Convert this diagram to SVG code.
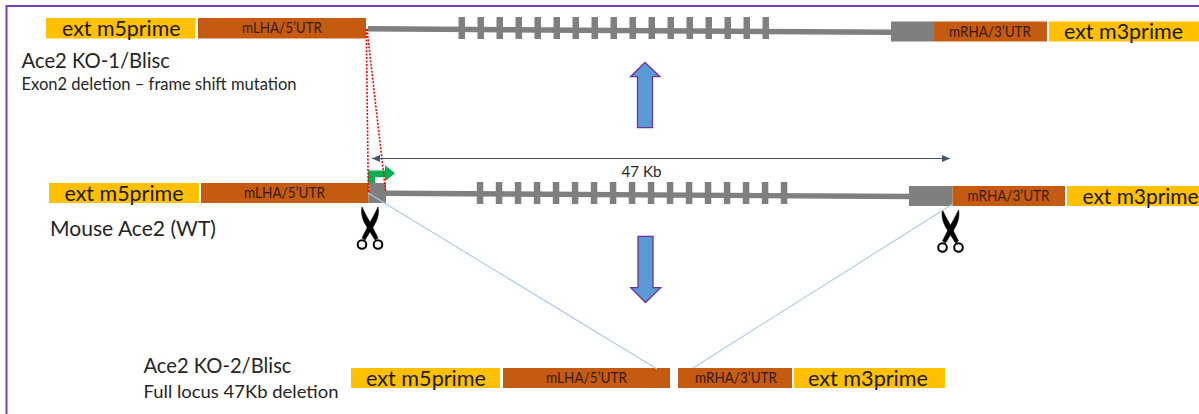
<svg xmlns="http://www.w3.org/2000/svg" width="1199" height="414" viewBox="0 0 1199 414">
<style>
text{font-family:"Lato","Carlito","Liberation Sans",sans-serif;fill:#262626}
.ext{font-size:22px;fill:#1a1a00}
.ha{font-size:14.5px;fill:#3a1a05}
.big{font-size:21px}
.small{font-size:16.5px}
.y{fill:#ffc000}
.b{fill:#c55a11}
.g{fill:#7f7f7f}
.red{fill:none;stroke:#ff0000;stroke-width:1.6;stroke-dasharray:2 1.500}
.blue{fill:none;stroke:#a9cbe8;stroke-width:1.1}
.fat{fill:#5b9bd5;stroke:#7030a0;stroke-width:1.3}
.sc{fill:none;stroke:#000;stroke-width:2}
.bl{fill:#000;stroke:#000;stroke-width:0.6}
</style>
<defs>
<g id="exons" class="g">
<rect x="0" width="6.5" height="22"/><rect x="19" width="6.5" height="22"/><rect x="38" width="6.5" height="22"/><rect x="57" width="6.5" height="22"/><rect x="76" width="6.5" height="22"/><rect x="95" width="6.5" height="22"/><rect x="114" width="6.5" height="22"/><rect x="133" width="6.5" height="22"/><rect x="152" width="6.5" height="22"/><rect x="171" width="6.5" height="22"/><rect x="190" width="6.5" height="22"/><rect x="209" width="6.5" height="22"/><rect x="228" width="6.5" height="22"/><rect x="247" width="6.5" height="22"/><rect x="266" width="6.5" height="22"/><rect x="285" width="6.5" height="22"/><rect x="304" width="6.5" height="22"/>
</g>
<g id="scissors">
<path class="bl" d="M-8 0C-9.500 7 -7 14 -3 20L5 33L8 31L2 19C-1 13 -5 7 -8 0Z"/>
<path class="bl" d="M8 0C9.500 7 7 14 3 20L-5 33L-8 31L-2 19C1 13 5 7 8 0Z"/>
<circle class="sc" cx="-8" cy="37.500" r="4.300"/>
<circle class="sc" cx="8" cy="37.500" r="4.300"/>
</g>
<marker id="ah" viewBox="0 0 8 7" refX="8" refY="3.5" markerWidth="8" markerHeight="7" markerUnits="userSpaceOnUse" orient="auto-start-reverse"><path d="M0 0L8 3.5L0 7Z" fill="#44546a"/></marker>
</defs>
<path id="frame" d="M1199 6H6.500V414" fill="none" stroke="#7b3fb5" stroke-width="2"/>

<g id="ko1">
<g id="ko1-ext5"><rect class="y" x="46" y="18" width="149.500" height="20.500"/><text class="ext" x="62" y="35.500" textLength="118.500" lengthAdjust="spacingAndGlyphs">ext m5prime</text></g>
<g id="ko1-lha"><rect class="b" x="198" y="18" width="168" height="20.500"/><text class="ha" x="242" y="33" textLength="80" lengthAdjust="spacingAndGlyphs">mLHA/5’UTR</text></g>
<g id="ko1-gene"><path class="g" d="M368 26L892 29.500V35L368 31.500Z"/><use href="#exons" x="458.500" y="17"/><rect class="g" x="891" y="21.500" width="43" height="20"/></g>
<g id="ko1-rha"><rect class="b" x="934" y="21.500" width="113" height="20"/><text class="ha" x="949" y="36.500" textLength="82" lengthAdjust="spacingAndGlyphs">mRHA/3’UTR</text></g>
<g id="ko1-ext3"><rect class="y" x="1049" y="21.500" width="150" height="20"/><text class="ext" x="1064" y="38.500" textLength="119" lengthAdjust="spacingAndGlyphs">ext m3prime</text></g>
<g id="ko1-label"><text class="big" x="21.500" y="68" textLength="148.500" lengthAdjust="spacingAndGlyphs">Ace2 KO-1/Blisc</text><text class="small" x="21.500" y="90" textLength="275" lengthAdjust="spacingAndGlyphs">Exon2 deletion – frame shift mutation</text></g>
</g>

<g id="wt">
<g id="wt-ext5"><rect class="y" x="49" y="183" width="150" height="20"/><text class="ext" x="64.500" y="200.500" textLength="119" lengthAdjust="spacingAndGlyphs">ext m5prime</text></g>
<g id="wt-lha"><rect class="b" x="201" y="183" width="167.500" height="20"/><text class="ha" x="244" y="197.500" textLength="81" lengthAdjust="spacingAndGlyphs">mLHA/5’UTR</text></g>
<g id="wt-gene"><path class="g" d="M385 190.600L910 193.800V199.200L385 196Z"/><use href="#exons" x="476.800" y="182"/><rect class="g" x="368.500" y="183" width="17.500" height="20"/><rect class="g" x="909" y="186" width="43.500" height="20"/></g>
<g id="wt-rha"><rect class="b" x="952.500" y="186" width="112.500" height="20"/><text class="ha" x="967.500" y="201" textLength="82" lengthAdjust="spacingAndGlyphs">mRHA/3’UTR</text></g>
<g id="wt-ext3"><rect class="y" x="1067" y="186" width="132" height="20"/><text class="ext" x="1082.500" y="203.500" textLength="116" lengthAdjust="spacingAndGlyphs">ext m3prime</text></g>
<g id="wt-label"><text class="big" x="50" y="236" textLength="166" lengthAdjust="spacingAndGlyphs">Mouse Ace2 (WT)</text></g>
<g id="tss"><path d="M368 183V170.500H385V165.300L395 173.300L385 181.300V177.300H375V183Z" fill="#00b050"/></g>
<g id="scissors-left"><use href="#scissors" x="370" y="207"/></g>
<g id="scissors-right"><use href="#scissors" x="950.500" y="210"/></g>
</g>

<g id="ko2">
<g id="ko2-ext5"><rect class="y" x="351" y="368" width="149" height="20"/><text class="ext" x="366" y="385.500" textLength="120" lengthAdjust="spacingAndGlyphs">ext m5prime</text></g>
<g id="ko2-lha"><rect class="b" x="503" y="368" width="167" height="20"/><text class="ha" x="546" y="383" textLength="81" lengthAdjust="spacingAndGlyphs">mLHA/5’UTR</text></g>
<g id="ko2-rha"><rect class="b" x="678" y="368" width="114" height="20"/><text class="ha" x="695" y="383" textLength="82" lengthAdjust="spacingAndGlyphs">mRHA/3’UTR</text></g>
<g id="ko2-ext3"><rect class="y" x="794" y="368" width="151" height="20"/><text class="ext" x="808" y="385.500" textLength="120" lengthAdjust="spacingAndGlyphs">ext m3prime</text></g>
<g id="ko2-label"><text class="big" x="143.500" y="373" textLength="148" lengthAdjust="spacingAndGlyphs">Ace2 KO-2/Blisc</text><text class="small" x="143.500" y="398" textLength="195" lengthAdjust="spacingAndGlyphs">Full locus 47Kb deletion</text></g>
</g>

<g id="connectors">
<path class="red" d="M366.300 29L368.300 192"/>
<path class="red" d="M367 29L385.700 192"/>
<path class="blue" d="M368 193L657 369"/>
<path class="blue" d="M952.700 204L693 368"/>
<path d="M372 158.500H950" fill="none" stroke="#44546a" stroke-width="1" marker-start="url(#ah)" marker-end="url(#ah)"/>
<text x="621.500" y="176.500" font-size="15.500" textLength="40" lengthAdjust="spacingAndGlyphs">47 Kb</text>
<path class="fat" d="M645 62.500L660 76.700H652.500V127.700H637.500V76.700H630.500Z"/>
<path class="fat" d="M638 236.300H653V287.700H660.700L645.500 302.500L630.700 287.700H638Z"/>
</g>
</svg>
